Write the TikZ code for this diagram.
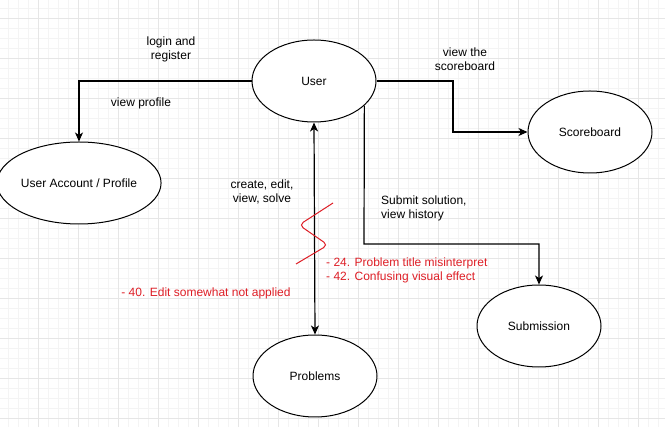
\documentclass[tikz,border=0pt]{standalone}
\usepackage{fontspec}
\setmainfont{Liberation Sans}
\usepackage{tikz}
\usetikzlibrary{arrows.meta,shapes.geometric}

\definecolor{gridminor}{RGB}{244,244,244}
\definecolor{gridmajor}{RGB}{230,230,230}
\definecolor{notered}{RGB}{222,30,38}

\tikzset{
  usecase/.style={draw,ellipse,line width=1pt,minimum width=124pt,minimum height=82pt,inner sep=0pt,fill=white},
  flow/.style={draw,line width=1.2pt,-{Stealth[length=9pt,width=8pt,inset=2.5pt]}},
  twoway/.style={draw,line width=1.2pt,{Stealth[length=9pt,width=8pt,inset=2.5pt]}-{Stealth[length=9pt,width=8pt,inset=2.5pt]}},
  flowtext/.style={align=center,inner sep=0pt},
  note/.style={align=left,inner sep=0pt,text=notered}
}

\begin{document}
\begin{tikzpicture}[x=1pt,y=-1pt,font=\fontsize{12}{14}\selectfont]
\useasboundingbox[fill=white] (0,0) rectangle (665,427);

% grid
\foreach \gx in {8,18,...,658} \draw[gridminor,line width=0.7pt] (\gx,0) -- (\gx,427);
\foreach \gy in {8,18,...,418} \draw[gridminor,line width=0.7pt] (0,\gy) -- (665,\gy);
\foreach \gx in {38,78,...,638} \draw[gridmajor,line width=0.7pt] (\gx,0) -- (\gx,427);
\foreach \gy in {18,58,...,418} \draw[gridmajor,line width=0.7pt] (0,\gy) -- (665,\gy);

\node[usecase] (user)     at (314,81)  {User};
\node[usecase] (account)  at (79,183)  {User Account / Profile};
\node[usecase] (board)    at (590,132) {Scoreboard};
\node[usecase] (submit)   at (539,326) {Submission};
\node[usecase] (problems) at (315,376) {Problems};

\coordinate (boardbend)  at (453,81);
\coordinate (submitbend) at (364,244);

\path[flow] (user.west) -| (account.north);% view profile
\path[flow] (user.east) -- (boardbend) |- (board.west);% scoreboard
\path[flow] (user.-26) -- (submitbend) -| (submit.north);% submission
\path[twoway] (user.south) -- (problems.north);% problems

% red break mark
\draw[notered,line width=1pt,rounded corners=5pt]
(333,203) -- (299,225) -- (328,245) -- (296,264);

\node[flowtext] (loginlbl)   at (171,49)  {login and\\register};
\node[flowtext] (profilelbl) at (141,103) {view profile};
\node[flowtext] (boardlbl)   at (465,59)  {view the\\scoreboard};
\node[flowtext] (createlbl)  at (262,192) {create, edit,\\view, solve};
\node[flowtext,anchor=west,align=left] (submitlbl) at (381,208) {Submit solution,\\view history};

\node[note,anchor=west] (note1) at (326,270) {- 24. Problem title misinterpret\\- 42. Confusing visual effect};
\node[note] (note2) at (206,293) {- 40. Edit somewhat not applied};

\end{tikzpicture}
\end{document}
